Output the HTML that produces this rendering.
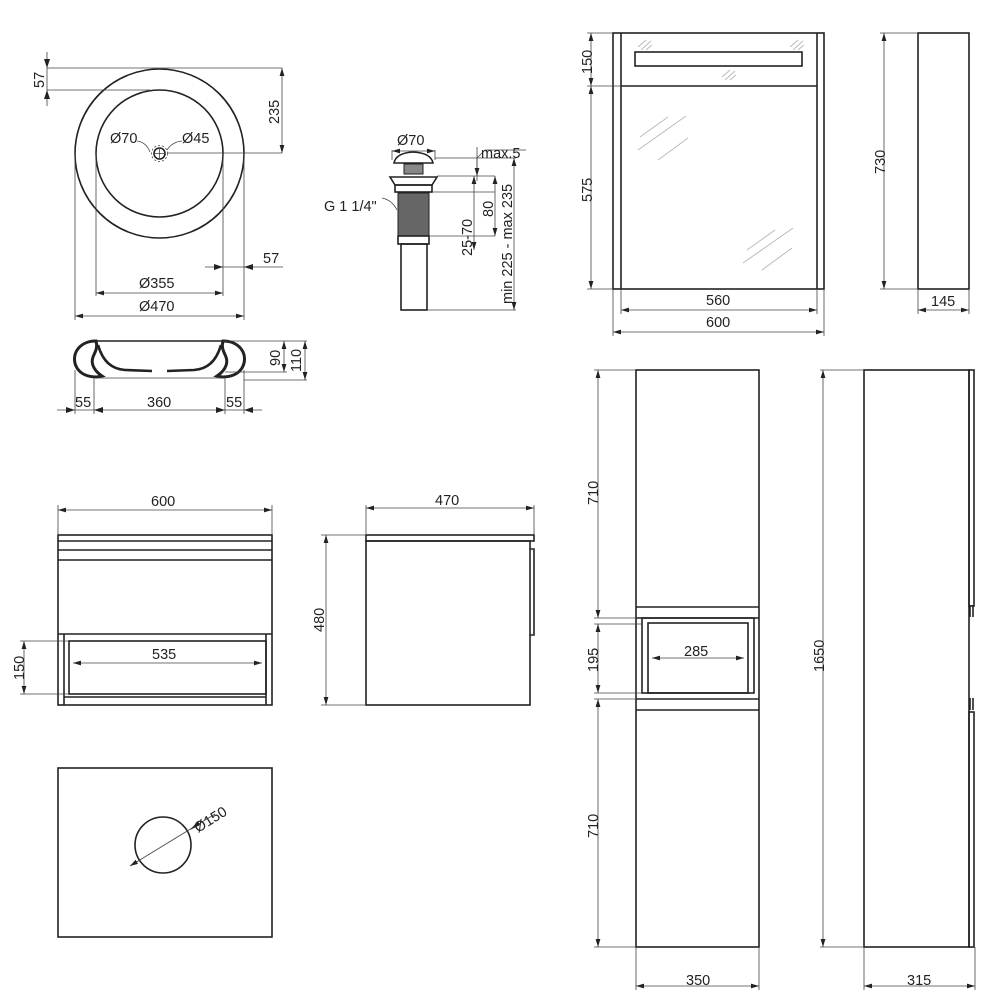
<!DOCTYPE html>
<html><head><meta charset="utf-8"><style>
html,body{margin:0;padding:0;background:#fff}
svg{display:block}
text{font-family:"Liberation Sans",sans-serif;font-size:14.5px;fill:#222}
.o{fill:none;stroke:#222;stroke-width:1.6}
.d{fill:none;stroke:#444;stroke-width:0.8}
.g{fill:none;stroke:#bbb;stroke-width:1}
</style></head><body>
<svg width="1000" height="1000" viewBox="0 0 1000 1000">
<defs>
<marker id="a" viewBox="0 0 10 10" refX="10" refY="5" markerWidth="8" markerHeight="8" orient="auto-start-reverse" markerUnits="userSpaceOnUse"><path d="M0,2 L10,5 L0,8 z" fill="#222"/></marker>
</defs>

<!-- BASIN TOP -->
<circle class="o" cx="159.5" cy="153.5" r="84.5"/>
<circle class="o" cx="159.5" cy="153.5" r="63.5"/>
<circle class="d" cx="159.5" cy="153.5" r="8" stroke-dasharray="2 2"/>
<circle class="o" cx="159.5" cy="153.5" r="5.5"/>
<line class="d" x1="155" y1="153.5" x2="164" y2="153.5"/><line class="d" x1="159.5" y1="149" x2="159.5" y2="158"/>
<path class="d" d="M137,141 Q146,142 150,152"/><path class="d" d="M182,141 Q172,142 167,150"/>
<text x="110" y="143">Ø70</text><text x="182" y="143">Ø45</text>
<line class="d" x1="47" y1="68" x2="282" y2="68"/><line class="d" x1="47" y1="90" x2="150" y2="90"/>
<line class="d" x1="47" y1="52" x2="47" y2="106"/>
<path d="M47,68 l-3,-9 h6z M47,90 l-3,9 h6z" fill="#222"/>
<text transform="translate(44,88) rotate(-90)">57</text>
<line class="d" x1="282" y1="68" x2="282" y2="153" marker-start="url(#a)" marker-end="url(#a)"/>
<line class="d" x1="168" y1="153" x2="282" y2="153"/>
<text transform="translate(279,124) rotate(-90)">235</text>
<line class="d" x1="205" y1="267" x2="283" y2="267"/>
<path d="M223,267 l-9,-3 v6z M244,267 l9,-3 v6z" fill="#222"/>
<text x="263" y="263">57</text>
<line class="d" x1="96" y1="153" x2="96" y2="296"/><line class="d" x1="223" y1="153" x2="223" y2="296"/>
<line class="d" x1="96" y1="293" x2="223" y2="293" marker-start="url(#a)" marker-end="url(#a)"/>
<text x="139" y="288">Ø355</text>
<line class="d" x1="75" y1="153" x2="75" y2="320"/><line class="d" x1="244" y1="153" x2="244" y2="320"/>
<line class="d" x1="75" y1="316" x2="244" y2="316" marker-start="url(#a)" marker-end="url(#a)"/>
<text x="139" y="311">Ø470</text>

<!-- BASIN SIDE -->
<path d="M96,341 C78,341 70,356 77,368 C82,376 92,377 97,377 L102,376 C96,372 90,365 93,357 C95,352 98,348 96,341 Z" fill="none" stroke="#222" stroke-width="3"/>
<path d="M223,341 C241,341 249,356 242,368 C237,376 227,377 222,377 L217,376 C223,372 229,365 226,357 C224,352 221,348 223,341 Z" fill="none" stroke="#222" stroke-width="3"/>
<line class="o" x1="96" y1="341" x2="223" y2="341"/>
<path d="M98,345 C103,362 112,369 125,370 L152,371 M167,371 L194,370 C207,369 216,362 221,345" fill="none" stroke="#222" stroke-width="2.6"/>
<line class="d" x1="97" y1="378" x2="222" y2="378"/>
<line class="d" x1="223" y1="341" x2="307" y2="341"/>
<line class="d" x1="225" y1="372" x2="287" y2="372"/>
<line class="d" x1="244" y1="380" x2="307" y2="380"/>
<line class="d" x1="284" y1="341" x2="284" y2="372" marker-start="url(#a)" marker-end="url(#a)"/>
<line class="d" x1="305" y1="341" x2="305" y2="380" marker-start="url(#a)" marker-end="url(#a)"/>
<text transform="translate(280,366) rotate(-90)">90</text>
<text transform="translate(301,372) rotate(-90)">110</text>
<line class="d" x1="75" y1="370" x2="75" y2="414"/><line class="d" x1="94" y1="378" x2="94" y2="414"/>
<line class="d" x1="225" y1="378" x2="225" y2="414"/><line class="d" x1="244" y1="370" x2="244" y2="414"/>
<line class="d" x1="57" y1="410" x2="262" y2="410"/>
<path d="M75,410 l-9,-3 v6z M94,410 l9,-3 v6z M225,410 l-9,-3 v6z M244,410 l9,-3 v6z" fill="#222"/>
<text x="75" y="407">55</text><text x="147" y="407">360</text><text x="226" y="407">55</text>

<!-- DRAIN -->
<line class="d" x1="392" y1="150" x2="392" y2="160"/><line class="d" x1="435" y1="150" x2="435" y2="160"/>
<line class="d" x1="392" y1="151" x2="435" y2="151" marker-start="url(#a)" marker-end="url(#a)"/>
<text x="397" y="145">Ø70</text>
<path class="o" d="M394,163 Q396,153 413,152 Q431,153 433,163 Z" fill="#fff"/>
<rect x="404" y="164" width="19" height="10" fill="#888" stroke="#222"/>
<path class="o" d="M390,177 H437 L432,185 H395 Z" fill="#fff"/>
<rect x="395" y="185" width="37" height="7" class="o" fill="#fff"/>
<rect x="398" y="193" width="31" height="43" fill="#666" stroke="#222"/>
<rect x="398" y="236" width="31" height="8" class="o" fill="#fff"/>
<rect x="401" y="244" width="26" height="66" class="o" fill="#fff"/>
<path class="d" d="M382,198 Q392,200 397,210"/>
<text x="324" y="211">G 1 1/4"</text>
<line class="d" x1="435" y1="158" x2="516" y2="158"/>
<line class="d" x1="437" y1="176" x2="495" y2="176"/>
<line class="d" x1="432" y1="192" x2="495" y2="192"/>
<line class="d" x1="429" y1="236" x2="495" y2="236"/>
<line class="d" x1="427" y1="310" x2="516" y2="310"/>
<line class="d" x1="477" y1="147" x2="477" y2="181"/>
<line class="d" x1="477" y1="158" x2="477" y2="176" marker-end="url(#a)"/>
<path class="d" d="M477,158 L485,150 H526"/>
<text x="481" y="158">max.5</text>
<line class="d" x1="474" y1="176" x2="474" y2="250" marker-start="url(#a)" marker-end="url(#a)"/>
<text transform="translate(472,256) rotate(-90)">25-70</text>
<line class="d" x1="495" y1="176" x2="495" y2="236" marker-start="url(#a)" marker-end="url(#a)"/>
<text transform="translate(493,217) rotate(-90)">80</text>
<line class="d" x1="514" y1="158" x2="514" y2="310" marker-start="url(#a)" marker-end="url(#a)"/>
<text transform="translate(512,304) rotate(-90)">min 225 - max 235</text>

<!-- MIRROR CABINET -->
<rect class="o" x="613" y="33" width="211" height="256"/>
<line class="o" x1="621" y1="33" x2="621" y2="289"/><line class="o" x1="817" y1="33" x2="817" y2="289"/>
<line class="o" x1="621" y1="86" x2="817" y2="86"/>
<rect class="o" x="635" y="52" width="167" height="14" fill="#f4f4f4"/>
<g class="g"><path d="M638,47 l8,-7 M641,50 l10,-9 M646,50 l6,-5 M790,47 l8,-7 M793,50 l10,-9 M798,50 l6,-5 M722,77 l8,-7 M725,80 l10,-9 M730,80 l6,-5"/>
<path d="M640,137 l28,-20 M638,150 l48,-34 M658,160 l30,-22 M747,250 l28,-20 M743,263 l50,-35 M762,270 l30,-22"/></g>
<line class="d" x1="587" y1="33" x2="613" y2="33"/><line class="d" x1="587" y1="86" x2="621" y2="86"/><line class="d" x1="587" y1="289" x2="613" y2="289"/>
<line class="d" x1="591" y1="33" x2="591" y2="86" marker-start="url(#a)" marker-end="url(#a)"/>
<line class="d" x1="591" y1="86" x2="591" y2="289" marker-start="url(#a)" marker-end="url(#a)"/>
<text transform="translate(592,74) rotate(-90)">150</text>
<text transform="translate(592,202) rotate(-90)">575</text>
<line class="d" x1="621" y1="289" x2="621" y2="314"/><line class="d" x1="817" y1="289" x2="817" y2="314"/>
<line class="d" x1="613" y1="289" x2="613" y2="336"/><line class="d" x1="824" y1="289" x2="824" y2="336"/>
<line class="d" x1="621" y1="310" x2="817" y2="310" marker-start="url(#a)" marker-end="url(#a)"/>
<text x="706" y="305">560</text>
<line class="d" x1="613" y1="332" x2="824" y2="332" marker-start="url(#a)" marker-end="url(#a)"/>
<text x="706" y="327">600</text>
<rect class="o" x="918" y="33" width="51" height="256"/>
<line class="d" x1="880" y1="33" x2="918" y2="33"/><line class="d" x1="880" y1="289" x2="918" y2="289"/>
<line class="d" x1="884" y1="33" x2="884" y2="289" marker-start="url(#a)" marker-end="url(#a)"/>
<text transform="translate(885,174) rotate(-90)">730</text>
<line class="d" x1="918" y1="289" x2="918" y2="314"/><line class="d" x1="969" y1="289" x2="969" y2="314"/>
<line class="d" x1="918" y1="310" x2="969" y2="310" marker-start="url(#a)" marker-end="url(#a)"/>
<text x="931" y="306">145</text>

<!-- VANITY FRONT -->
<rect class="o" x="58" y="535" width="214" height="170"/>
<line class="o" x1="58" y1="541" x2="272" y2="541"/>
<line class="o" x1="58" y1="550" x2="272" y2="550"/>
<line class="o" x1="58" y1="560" x2="272" y2="560"/>
<line class="o" x1="58" y1="634" x2="272" y2="634"/>
<line class="o" x1="64" y1="634" x2="64" y2="705"/><line class="o" x1="266" y1="634" x2="266" y2="705"/>
<rect class="o" x="69" y="641" width="197" height="53"/>
<line class="o" x1="64" y1="697" x2="266" y2="697"/>
<line class="d" x1="58" y1="505" x2="58" y2="535"/><line class="d" x1="272" y1="505" x2="272" y2="535"/>
<line class="d" x1="58" y1="510" x2="272" y2="510" marker-start="url(#a)" marker-end="url(#a)"/>
<text x="151" y="506">600</text>
<line class="d" x1="73" y1="663" x2="262" y2="663" marker-start="url(#a)" marker-end="url(#a)"/>
<text x="152" y="659">535</text>
<line class="d" x1="20" y1="641" x2="69" y2="641"/><line class="d" x1="20" y1="694" x2="69" y2="694"/>
<line class="d" x1="24" y1="641" x2="24" y2="694" marker-start="url(#a)" marker-end="url(#a)"/>
<text transform="translate(24,680) rotate(-90)">150</text>

<!-- VANITY SIDE -->
<rect class="o" x="366" y="535" width="168" height="6"/>
<rect class="o" x="366" y="541" width="164" height="164"/>
<path class="o" d="M530,549 h4 v86 h-4"/>
<line class="d" x1="366" y1="505" x2="366" y2="535"/><line class="d" x1="534" y1="505" x2="534" y2="535"/>
<line class="d" x1="366" y1="508" x2="534" y2="508" marker-start="url(#a)" marker-end="url(#a)"/>
<text x="435" y="505">470</text>
<line class="d" x1="321" y1="535" x2="366" y2="535"/><line class="d" x1="321" y1="705" x2="366" y2="705"/>
<line class="d" x1="326" y1="535" x2="326" y2="705" marker-start="url(#a)" marker-end="url(#a)"/>
<text transform="translate(324,632) rotate(-90)">480</text>

<!-- COUNTERTOP -->
<rect class="o" x="58" y="768" width="214" height="169"/>
<circle class="o" cx="163" cy="845" r="28"/>
<line class="d" x1="130" y1="866" x2="215" y2="814" marker-start="url(#a)"/>
<path d="M190,830 l8,-9 l2,4z" fill="#222"/>
<text transform="translate(198,833) rotate(-32)">Ø150</text>

<!-- TALL CABINET FRONT -->
<rect class="o" x="636" y="370" width="123" height="577"/>
<line class="o" x1="636" y1="607" x2="759" y2="607"/>
<line class="o" x1="636" y1="618" x2="759" y2="618"/>
<rect class="o" x="642" y="618" width="112" height="75"/>
<rect class="o" x="648" y="623" width="100" height="70"/>
<line class="o" x1="636" y1="699" x2="759" y2="699"/>
<line class="o" x1="636" y1="710" x2="759" y2="710"/>
<line class="d" x1="652" y1="658" x2="744" y2="658" marker-start="url(#a)" marker-end="url(#a)"/>
<text x="684" y="656">285</text>
<line class="d" x1="594" y1="370" x2="636" y2="370"/><line class="d" x1="594" y1="618" x2="636" y2="618"/>
<line class="d" x1="594" y1="624" x2="642" y2="624"/><line class="d" x1="594" y1="693" x2="642" y2="693"/>
<line class="d" x1="594" y1="699" x2="636" y2="699"/><line class="d" x1="594" y1="947" x2="636" y2="947"/>
<line class="d" x1="598" y1="370" x2="598" y2="618" marker-start="url(#a)" marker-end="url(#a)"/>
<line class="d" x1="598" y1="624" x2="598" y2="693" marker-start="url(#a)" marker-end="url(#a)"/>
<line class="d" x1="598" y1="699" x2="598" y2="947" marker-start="url(#a)" marker-end="url(#a)"/>
<text transform="translate(598,505) rotate(-90)">710</text>
<text transform="translate(598,672) rotate(-90)">195</text>
<text transform="translate(598,838) rotate(-90)">710</text>
<line class="d" x1="636" y1="947" x2="636" y2="990"/><line class="d" x1="759" y1="947" x2="759" y2="990"/>
<line class="d" x1="636" y1="986" x2="759" y2="986" marker-start="url(#a)" marker-end="url(#a)"/>
<text x="686" y="985">350</text>

<!-- TALL CABINET SIDE -->
<rect class="o" x="864" y="370" width="105" height="577"/>
<rect class="o" x="969" y="370" width="5" height="236"/>
<rect class="o" x="969" y="712" width="5" height="235"/>
<path class="o" d="M970,605 v12 M973,605 v12 M970,698 v12 M973,698 v12"/>
<line class="d" x1="820" y1="370" x2="864" y2="370"/><line class="d" x1="820" y1="947" x2="864" y2="947"/>
<line class="d" x1="823" y1="370" x2="823" y2="947" marker-start="url(#a)" marker-end="url(#a)"/>
<text transform="translate(824,672) rotate(-90)">1650</text>
<line class="d" x1="864" y1="947" x2="864" y2="990"/><line class="d" x1="975" y1="947" x2="975" y2="990"/>
<line class="d" x1="864" y1="986" x2="975" y2="986" marker-start="url(#a)" marker-end="url(#a)"/>
<text x="907" y="985">315</text>
</svg>
</body></html>
